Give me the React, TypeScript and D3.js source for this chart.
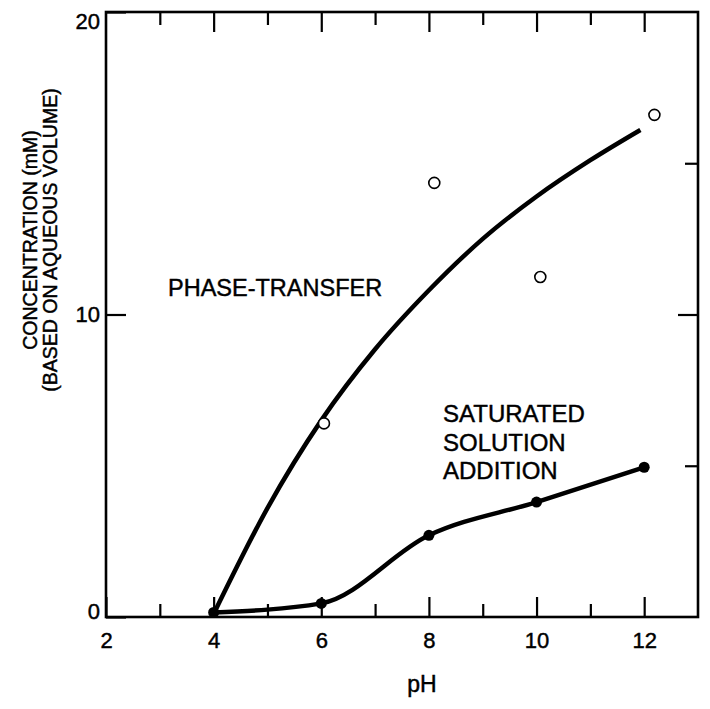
import React, { useEffect, useRef } from 'react';
import * as d3 from 'd3';

// saturated solution addition (filled dots)
const satPH = [4, 6, 8, 10, 12];
const satConc = [0.15, 0.45, 2.7, 3.8, 4.95];

// phase-transfer measurements (open circles)
const ptPH = [6.05, 8.1, 10.07, 12.19];
const ptConc = [6.4, 14.35, 11.24, 16.6];

// phase-transfer smooth curve
const fitPH = [4, 5, 6, 7, 8, 9, 10, 11, 11.93];
const fitConc = [0.1, 3.6, 6.5, 8.85, 10.8, 12.5, 13.9, 15.1, 16.1];

const xMajor = [2, 4, 6, 8, 10, 12];
const xMinor = [3, 5, 7, 9, 11];
const yLabels = [0, 10, 20];

const FONT = '"Liberation Sans", Arial, Helvetica, sans-serif';

export default function App() {
  const svgRef = useRef<SVGSVGElement | null>(null);

  const width = 710;
  const height = 709;
  const left = 106;
  const right = 698;
  const top = 12;
  const bottom = 617;

  useEffect(() => {
    const svg = d3.select(svgRef.current);
    svg.selectAll('*').remove();

    const x = d3.scaleLinear().domain([2, 13]).range([left, right]);
    const y = d3.scaleLinear().domain([0, 20]).range([bottom, top]);

    const inkText = (sel: any, size: number) =>
      sel
        .attr('fill', '#000')
        .attr('stroke', '#000')
        .attr('stroke-width', 0.45)
        .attr('font-family', FONT)
        .attr('font-size', size);

    const styleAxis = (g: any, withText: boolean) => {
      g.select('.domain').remove();
      g.selectAll('line').attr('stroke', '#000').attr('stroke-width', 2.2);
      if (withText) inkText(g.selectAll('text'), 22);
    };

    // bottom axis
    svg
      .append('g')
      .attr('transform', `translate(0,${bottom})`)
      .call(d3.axisBottom(x).tickValues(xMajor).tickSize(-20).tickPadding(15).tickFormat(d3.format('d')))
      .call((g: any) => styleAxis(g, true));
    svg
      .append('g')
      .attr('transform', `translate(0,${bottom})`)
      .call(d3.axisBottom(x).tickValues(xMinor).tickSize(-13).tickFormat(() => ''))
      .call((g: any) => styleAxis(g, false));

    // top axis
    svg
      .append('g')
      .attr('transform', `translate(0,${top})`)
      .call(d3.axisTop(x).tickValues(xMajor.slice(1)).tickSize(-20).tickFormat(() => ''))
      .call((g: any) => styleAxis(g, false));
    svg
      .append('g')
      .attr('transform', `translate(0,${top})`)
      .call(d3.axisTop(x).tickValues(xMinor).tickSize(-13).tickFormat(() => ''))
      .call((g: any) => styleAxis(g, false));

    // left axis
    const leftAxis = svg
      .append('g')
      .attr('transform', `translate(${left},0)`)
      .call(d3.axisLeft(y).tickValues(yLabels).tickSize(-20).tickPadding(6).tickFormat(d3.format('d')))
      .call((g: any) => styleAxis(g, true));
    // corner labels sit a little inside the frame
    leftAxis
      .selectAll('text')
      .attr('dy', (d: any) => (d === 20 ? '0.75em' : d === 0 ? '0.05em' : '0.32em'));

    // right axis
    svg
      .append('g')
      .attr('transform', `translate(${right},0)`)
      .call(d3.axisRight(y).tickValues([10]).tickSize(-20).tickFormat(() => ''))
      .call((g: any) => styleAxis(g, false));
    svg
      .append('g')
      .attr('transform', `translate(${right},0)`)
      .call(d3.axisRight(y).tickValues([5, 15]).tickSize(-13).tickFormat(() => ''))
      .call((g: any) => styleAxis(g, false));

    // frame
    svg
      .append('rect')
      .attr('x', left)
      .attr('y', top)
      .attr('width', right - left)
      .attr('height', bottom - top)
      .attr('fill', 'none')
      .attr('stroke', '#000')
      .attr('stroke-width', 2.6);

    const line = d3
      .line<any>()
      .x((d) => x(d.p))
      .y((d) => y(d.c))
      .curve(d3.curveMonotoneX);

    // phase-transfer curve
    const fit = fitPH.map((p, i) => ({ p, c: fitConc[i] }));
    svg
      .append('path')
      .datum(fit)
      .attr('d', line)
      .attr('fill', 'none')
      .attr('stroke', '#000')
      .attr('stroke-width', 4.5);

    // saturated solution curve
    const sat = satPH.map((p, i) => ({ p, c: satConc[i] }));
    svg
      .append('path')
      .datum(sat)
      .attr('d', line)
      .attr('fill', 'none')
      .attr('stroke', '#000')
      .attr('stroke-width', 4.5);

    svg
      .append('g')
      .selectAll('circle')
      .data(sat)
      .enter()
      .append('circle')
      .attr('cx', (d) => x(d.p))
      .attr('cy', (d) => y(d.c))
      .attr('r', 5.5)
      .attr('fill', '#000');

    const pts = ptPH.map((p, i) => ({ p, c: ptConc[i] }));
    svg
      .append('g')
      .selectAll('circle')
      .data(pts)
      .enter()
      .append('circle')
      .attr('cx', (d) => x(d.p))
      .attr('cy', (d) => y(d.c))
      .attr('r', 5.5)
      .attr('fill', '#fff')
      .attr('stroke', '#000')
      .attr('stroke-width', 1.6);

    // labels
    inkText(svg.append('text').attr('x', 168).attr('y', 296), 23.5).text('PHASE-TRANSFER');

    const satLabel = inkText(svg.append('text').attr('x', 443).attr('y', 422), 24);
    ['SATURATED', 'SOLUTION', 'ADDITION'].forEach((t, i) => {
      satLabel
        .append('tspan')
        .attr('x', 443)
        .attr('dy', i === 0 ? 0 : 28.5)
        .text(t);
    });

    inkText(
      svg.append('text').attr('x', 422).attr('y', 692).attr('text-anchor', 'middle'),
      23
    ).text('pH');

    const yTitle = inkText(
      svg
        .append('text')
        .attr('transform', 'translate(37,240) rotate(-90)')
        .attr('text-anchor', 'middle'),
      19.5
    );
    yTitle.append('tspan').attr('x', 0).attr('dy', 0).text('CONCENTRATION (mM)');
    yTitle.append('tspan').attr('x', 0).attr('dy', 20).text('(BASED ON AQUEOUS VOLUME)');
  }, []);

  return (
    <svg
      ref={svgRef}
      width={width}
      height={height}
      style={{ position: 'absolute', left: 0, top: 0, background: '#fff' }}
    />
  );
}
